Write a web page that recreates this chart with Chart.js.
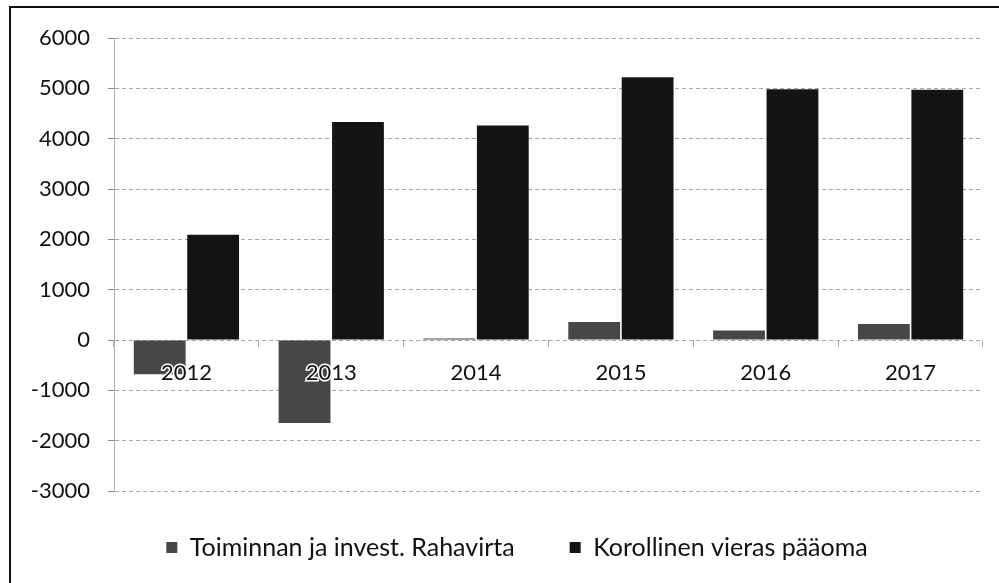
<!DOCTYPE html>
<html><head><meta charset="utf-8">
<script src="https://cdn.jsdelivr.net/npm/chart.js@4.4.1/dist/chart.umd.min.js"></script>
<style>
html,body{margin:0;padding:0;background:#fff;}
#wrap{position:relative;width:999px;height:583px;}
#frame{position:absolute;left:9px;top:6px;width:990px;height:577px;border-top:2px solid #111;border-left:2px solid #111;box-sizing:border-box;pointer-events:none;}
</style></head><body>
<div id="wrap"><canvas id="c" width="999" height="583"></canvas><div id="frame"></div></div>
<script>
const categories = ['2012', '2013', '2014', '2015', '2016', '2017'];
const seriesNames = ['Toiminnan ja invest. Rahavirta', 'Korollinen vieras pääoma'];
const rahavirta = [-680, -1650, 30, 360, 190, 320];
const vierasPaaoma = [2090, 4330, 4260, 5220, 4980, 4970];
const yMin = -3000, yMax = 6000, yStep = 1000;

const FONT = 'Lato, "Open Sans", sans-serif';

const legendPlace = {
  id: 'legendPlace',
  afterLayout(chart) {
    const lg = chart.legend;
    if (!lg) return;
    const centerX = 517;
    const sh = centerX - (lg.left + lg.right) / 2;
    lg.left += sh; lg.right += sh;
    const h = lg.bottom - lg.top;
    lg.top = 480;
    lg.bottom = lg.top + h;
  }
};

new Chart(document.getElementById('c'), {
  type: 'bar',
  data: {
    labels: categories,
    datasets: [
      { label: seriesNames[0], data: rahavirta, backgroundColor: '#474747', borderWidth: 0 },
      { label: seriesNames[1], data: vierasPaaoma, backgroundColor: '#141414', borderWidth: 0 }
    ]
  },
  options: {
    responsive: false,
    animation: false,
    devicePixelRatio: 1,
    categoryPercentage: 0.7376,
    barPercentage: 0.97,
    layout: { padding: { top: 38, right: 16, bottom: 2, left: 10 } },
    plugins: {
      legend: {
        position: 'bottom',
        labels: {
          boxWidth: 11, boxHeight: 11, padding: 55,
          color: '#111',
          font: { family: FONT, size: 25 }
        }
      },
      tooltip: { enabled: false }
    },
    scales: {
      y: {
        min: yMin, max: yMax,
        afterFit(s) { s.width = 104; },
        ticks: { stepSize: yStep, color: '#111', padding: 18, font: { family: FONT, size: 22 },
                 callback: v => String(v) },
        grid: { color: '#a5a5a5', lineWidth: 1, tickLength: 6, tickColor: '#8a8a8a' },
        border: { display: true, color: '#b0b0b0', width: 1, dash: [4, 3] }
      },
      x: {
        position: { y: 0 },
        afterFit(s) { s.height = 0; },
        ticks: { z: 1, color: '#111', padding: 13, font: { family: FONT, size: 22 },
                 textStrokeColor: '#fff', textStrokeWidth: 3 },
        grid: { drawOnChartArea: false, tickLength: 7, color: '#aaa', offset: true },
        border: { display: false }
      }
    }
  },
  plugins: [legendPlace]
});
</script>
</body></html>
